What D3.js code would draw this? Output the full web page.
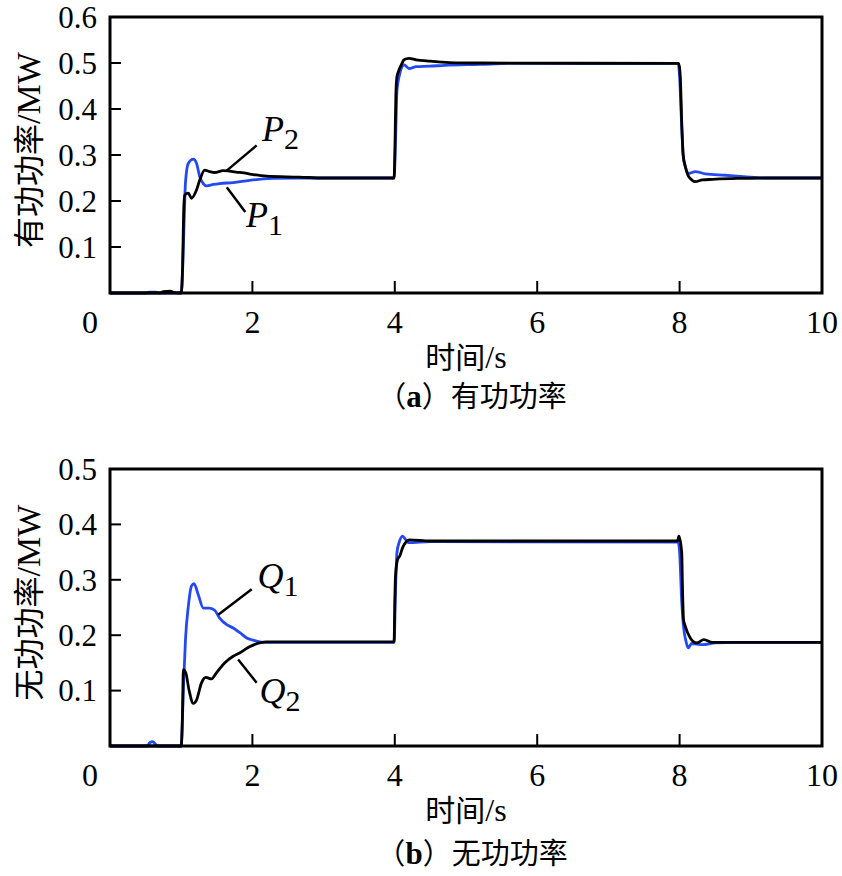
<!DOCTYPE html>
<html>
<head>
<meta charset="utf-8">
<script src="https://cdn.jsdelivr.net/npm/d3@7"></script>
<style>
  html, body { margin: 0; padding: 0; background: #fff; }
  svg { display: block; }
</style>
</head>
<body>
<svg id="chart" width="842" height="876"></svg>
<script>
// ---------------- DATA ----------------
const xTicks = [0, 2, 4, 6, 8, 10];
const pTicks = [0.1, 0.2, 0.3, 0.4, 0.5, 0.6];
const qTicks = [0.1, 0.2, 0.3, 0.4, 0.5];

// Active power P1 (blue) [time s, MW]
const P1 = [[0,0],[0.5,0],[0.55,0.002],[0.65,0.002],[0.7,0],[1.0,0],[1.02,0.05],[1.04,0.15],[1.06,0.24],[1.10,0.282],[1.17,0.291],[1.215,0.282],[1.26,0.253],[1.31,0.238],[1.355,0.233],[1.45,0.236],[1.54,0.238],[1.73,0.240],[1.96,0.245],[2.28,0.249],[2.6,0.25],[3.99,0.25],[4.01,0.33],[4.03,0.44],[4.06,0.47],[4.09,0.488],[4.13,0.496],[4.20,0.488],[4.30,0.492],[4.49,0.493],[4.7,0.495],[5.2,0.497],[5.6,0.499],[7.98,0.499],[8.0,0.47],[8.03,0.36],[8.05,0.30],[8.08,0.275],[8.13,0.26],[8.22,0.264],[8.36,0.259],[8.64,0.256],[8.9,0.253],[9.2,0.25],[10,0.25]];
// Active power P2 (black)
const P2 = [[0,0],[0.7,0],[0.75,0.003],[0.85,0.004],[0.9,0.001],[1.0,0],[1.02,0.06],[1.035,0.18],[1.05,0.213],[1.10,0.217],[1.145,0.206],[1.215,0.224],[1.26,0.245],[1.33,0.267],[1.40,0.264],[1.47,0.262],[1.59,0.266],[1.82,0.262],[2.2,0.254],[2.66,0.252],[3.0,0.25],[3.99,0.25],[4.0,0.3],[4.015,0.43],[4.03,0.47],[4.05,0.481],[4.10,0.499],[4.13,0.507],[4.20,0.510],[4.30,0.507],[4.49,0.504],[4.77,0.501],[5.2,0.5],[7.99,0.499],[8.01,0.47],[8.03,0.37],[8.05,0.3],[8.08,0.275],[8.12,0.255],[8.15,0.249],[8.22,0.242],[8.32,0.246],[8.46,0.247],[8.8,0.249],[9.2,0.25],[10,0.25]];

// Reactive power Q1 (blue)
const Q1 = [[0,0],[0.52,0],[0.56,0.006],[0.6,0.008],[0.64,0.003],[0.68,0],[1.0,0],[1.03,0.1],[1.06,0.192],[1.10,0.252],[1.145,0.289],[1.18,0.293],[1.24,0.273],[1.31,0.249],[1.40,0.249],[1.47,0.245],[1.54,0.231],[1.64,0.219],[1.73,0.213],[1.82,0.205],[1.92,0.195],[2.01,0.191],[2.15,0.187],[3.99,0.187],[4.01,0.28],[4.03,0.349],[4.06,0.367],[4.11,0.379],[4.15,0.373],[4.2,0.367],[4.5,0.369],[7.98,0.368],[8.0,0.35],[8.03,0.26],[8.06,0.21],[8.09,0.189],[8.12,0.177],[8.17,0.185],[8.32,0.183],[8.5,0.186],[8.8,0.187],[10,0.187]];
// Reactive power Q2 (black)
const Q2 = [[0,0],[1.0,0],[1.02,0.07],[1.03,0.138],[1.065,0.132],[1.11,0.101],[1.17,0.077],[1.215,0.083],[1.285,0.114],[1.345,0.124],[1.425,0.121],[1.495,0.132],[1.61,0.150],[1.73,0.162],[1.82,0.168],[1.96,0.179],[2.10,0.186],[2.2,0.188],[3.99,0.188],[4.0,0.26],[4.01,0.307],[4.04,0.337],[4.07,0.343],[4.11,0.358],[4.15,0.367],[4.2,0.372],[4.5,0.370],[7.97,0.370],[7.99,0.379],[8.03,0.349],[8.04,0.289],[8.055,0.228],[8.08,0.216],[8.15,0.195],[8.24,0.186],[8.34,0.192],[8.46,0.187],[10,0.187]];

// Annotations (data units): label anchor, leader line from -> to
const pLabels = [
  {name: "P", sub: "2", at: [2.135, 0.331], line: [[2.06, 0.321], [1.64, 0.266]]},
  {name: "P", sub: "1", at: [1.91, 0.143], line: [[1.90, 0.176], [1.64, 0.230]]}
];
const qLabels = [
  {name: "Q", sub: "1", at: [2.07, 0.285], line: [[1.99, 0.283], [1.52, 0.237]]},
  {name: "Q", sub: "2", at: [2.10, 0.078], line: [[2.06, 0.114], [1.80, 0.156]]}
];

// ---------------- DRAW ----------------
const svg = d3.select("#chart");
const BLUE = "#2349f5";
const serif = "Liberation Serif";
const cjk = "Noto Sans CJK SC";

function panel(cfg) {
  const x = d3.scaleLinear().domain([0, 10]).range([110, 822]);
  const y = d3.scaleLinear().domain([0, cfg.ymax]).range([cfg.bottom, cfg.top]);
  const g = svg.append("g");

  const line = d3.line().x(d => x(d[0])).y(d => y(d[1])).curve(d3.curveMonotoneX);

  g.append("path").datum(cfg.blue).attr("d", line)
    .attr("fill", "none").attr("stroke", BLUE).attr("stroke-width", 2.8).attr("stroke-linejoin", "round");
  g.append("path").datum(cfg.black).attr("d", line)
    .attr("fill", "none").attr("stroke", "#000").attr("stroke-width", 2.8).attr("stroke-linejoin", "round");

  g.append("rect").attr("x", x(0)).attr("y", y(cfg.ymax))
    .attr("width", x(10) - x(0)).attr("height", y(0) - y(cfg.ymax))
    .attr("fill", "none").attr("stroke", "#000").attr("stroke-width", 3);

  g.selectAll(".yt").data(cfg.yticks.filter(v => v < cfg.ymax - 1e-9)).enter().append("line")
    .attr("x1", x(0)).attr("x2", x(0) + 11)
    .attr("y1", d => y(d)).attr("y2", d => y(d))
    .attr("stroke", "#000").attr("stroke-width", 2);
  g.selectAll(".yl").data(cfg.yticks).enter().append("text")
    .attr("x", x(0) - 13).attr("y", d => y(d)).attr("dy", "0.35em")
    .attr("text-anchor", "end").style("font-family", serif).attr("font-size", 31)
    .text(d => d.toFixed(1));

  g.selectAll(".xt").data(xTicks.filter(v => v > 0 && v < 10)).enter().append("line")
    .attr("x1", d => x(d)).attr("x2", d => x(d))
    .attr("y1", y(0)).attr("y2", y(0) - 12)
    .attr("stroke", "#000").attr("stroke-width", 2);
  g.selectAll(".xl").data(xTicks).enter().append("text")
    .attr("x", d => d === 0 ? x(d) - 20 : x(d)).attr("y", y(0) + 40)
    .attr("text-anchor", "middle").style("font-family", serif).attr("font-size", 32)
    .text(d => d);

  const xt = g.append("text").attr("x", 466).attr("y", y(0) + cfg.xlabDy)
    .attr("text-anchor", "middle").attr("font-size", 30);
  xt.append("tspan").style("font-family", cjk).text("时间");
  xt.append("tspan").style("font-family", serif).attr("font-size", 32).text("/s");

  const cp = g.append("text").attr("x", 472).attr("y", cfg.capY)
    .attr("text-anchor", "middle").attr("font-size", 29).style("font-family", cjk);
  cp.append("tspan").text("（");
  cp.append("tspan").style("font-family", serif).attr("font-weight", "bold").attr("font-size", 31).text(cfg.tag);
  cp.append("tspan").text("）" + cfg.caption);

  const yt = g.append("text")
    .attr("transform", `translate(40, ${(y(0) + y(cfg.ymax)) / 2 - 5}) rotate(-90)`)
    .attr("text-anchor", "middle").attr("font-size", 31);
  yt.append("tspan").style("font-family", cjk).text(cfg.ylabel);
  yt.append("tspan").style("font-family", serif).attr("font-size", 34).text("/MW");

  cfg.labels.forEach(a => {
    g.append("line")
      .attr("x1", x(a.line[0][0])).attr("y1", y(a.line[0][1]))
      .attr("x2", x(a.line[1][0])).attr("y2", y(a.line[1][1]))
      .attr("stroke", "#000").attr("stroke-width", 2.5);
    const t = g.append("text").attr("x", x(a.at[0])).attr("y", y(a.at[1]))
      .style("font-family", serif).attr("font-size", 36);
    t.append("tspan").attr("font-style", "italic").text(a.name);
    t.append("tspan").attr("font-size", 30).attr("dy", 8).text(a.sub);
  });
}

panel({ymax: 0.6, top: 17, bottom: 293, yticks: pTicks, blue: P1, black: P2,
  labels: pLabels, tag: "a", caption: "有功功率", capY: 407, xlabDy: 75, ylabel: "有功功率"});
panel({ymax: 0.5, top: 469, bottom: 746, yticks: qTicks, blue: Q1, black: Q2,
  labels: qLabels, tag: "b", caption: "无功功率", capY: 864, xlabDy: 75, ylabel: "无功功率"});
</script>
</body>
</html>
